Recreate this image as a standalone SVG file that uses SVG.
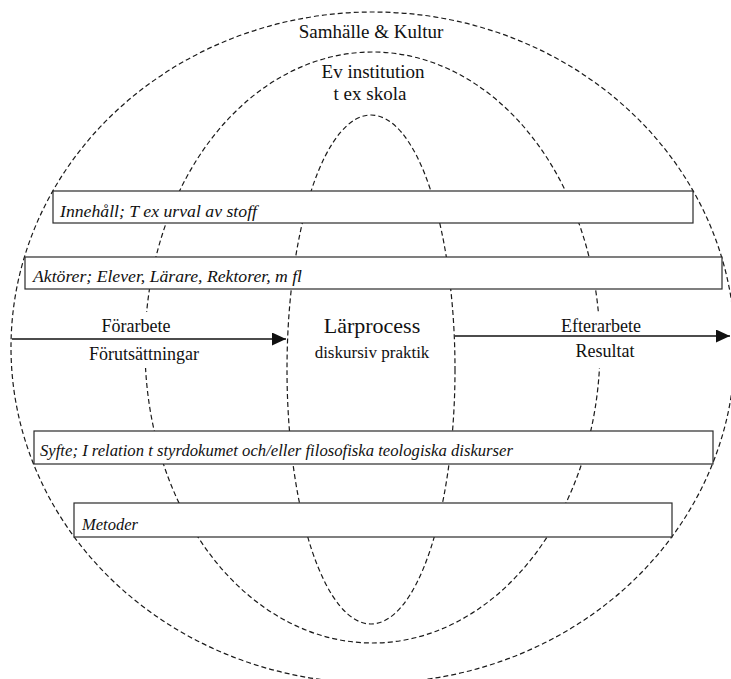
<svg xmlns="http://www.w3.org/2000/svg" width="731" height="679" viewBox="0 0 731 679">
<style>
.ring{fill:none;stroke:#1a1a1a;stroke-width:1.2;stroke-dasharray:5 3}
.box{fill:#fff;stroke:#2a2a2a;stroke-width:1.2}
.arr{stroke:#111;stroke-width:1.6;fill:none}
.mask{fill:#fff}
text{fill:#111}
.lbl{text-anchor:middle}
</style>
<defs>
<marker id="ah" markerUnits="userSpaceOnUse" markerWidth="15" markerHeight="14" refX="14" refY="6.5" orient="auto">
<path d="M0,0 L14,6.5 L0,13 Z" fill="#111"/>
</marker>
</defs>
<rect width="731" height="679" fill="#fff"/>
<g id="samhalle">
<ellipse class="ring" cx="373" cy="347.5" rx="362" ry="335.5"/>
<text class="lbl" x="371" y="38" font-family="Liberation Serif, DejaVu Serif, serif" font-size="19">Samhälle &amp; Kultur</text>
</g>
<g id="institution">
<ellipse class="ring" cx="372.5" cy="347.5" rx="227.5" ry="295.5"/>
<text class="lbl" x="373" y="78" font-family="Liberation Serif, DejaVu Serif, serif" font-size="19">Ev institution</text>
<text class="lbl" x="370" y="100" font-family="Liberation Serif, DejaVu Serif, serif" font-size="19">t ex skola</text>
</g>
<g id="larprocess">
<ellipse class="ring" cx="371" cy="369.5" rx="84" ry="254.5"/>
</g>
<g id="innehall">
<rect class="box" x="53" y="191" width="640" height="32"/>
<text x="60" y="217" font-family="Liberation Serif, DejaVu Serif, serif" font-style="italic" font-size="17" textLength="197" lengthAdjust="spacingAndGlyphs">Innehåll; T ex urval av stoff</text>
</g>
<g id="aktorer">
<rect class="box" x="25" y="257" width="697" height="32"/>
<text x="33" y="282" font-family="Liberation Serif, DejaVu Serif, serif" font-style="italic" font-size="17" textLength="269" lengthAdjust="spacingAndGlyphs">Aktörer; Elever, Lärare, Rektorer, m fl</text>
</g>
<g id="syfte">
<rect class="box" x="34" y="431" width="679" height="33"/>
<text x="40" y="456" font-family="Liberation Serif, DejaVu Serif, serif" font-style="italic" font-size="17" textLength="473" lengthAdjust="spacingAndGlyphs">Syfte; I relation t styrdokumet och/eller filosofiska teologiska diskurser</text>
</g>
<g id="metoder">
<rect class="box" x="74" y="503" width="598" height="34"/>
<text x="82" y="530" font-family="Liberation Serif, DejaVu Serif, serif" font-style="italic" font-size="17" textLength="56" lengthAdjust="spacingAndGlyphs">Metoder</text>
</g>
<g id="label-masks">
<rect class="mask" x="84" y="312" width="122" height="56"/>
<rect class="mask" x="554" y="312" width="96" height="56"/>
</g>
<g id="connectors">
<line class="arr" x1="12" y1="339" x2="286" y2="339" marker-end="url(#ah)"/>
<line class="arr" x1="455" y1="336" x2="730" y2="336" marker-end="url(#ah)"/>
</g>
<g id="forarbete">
<text class="lbl" x="136" y="332" font-family="Liberation Serif, DejaVu Serif, serif" font-size="18">Förarbete</text>
<text class="lbl" x="144" y="360" font-family="Liberation Serif, DejaVu Serif, serif" font-size="18">Förutsättningar</text>
</g>
<g id="larprocess-label">
<text class="lbl" x="372" y="333" font-family="Liberation Serif, DejaVu Serif, serif" font-size="22">Lärprocess</text>
<text class="lbl" x="372" y="358" font-family="Liberation Serif, DejaVu Serif, serif" font-size="17">diskursiv praktik</text>
</g>
<g id="efterarbete">
<text class="lbl" x="601" y="332" font-family="Liberation Serif, DejaVu Serif, serif" font-size="18">Efterarbete</text>
<text class="lbl" x="605" y="357" font-family="Liberation Serif, DejaVu Serif, serif" font-size="18">Resultat</text>
</g>
</svg>
